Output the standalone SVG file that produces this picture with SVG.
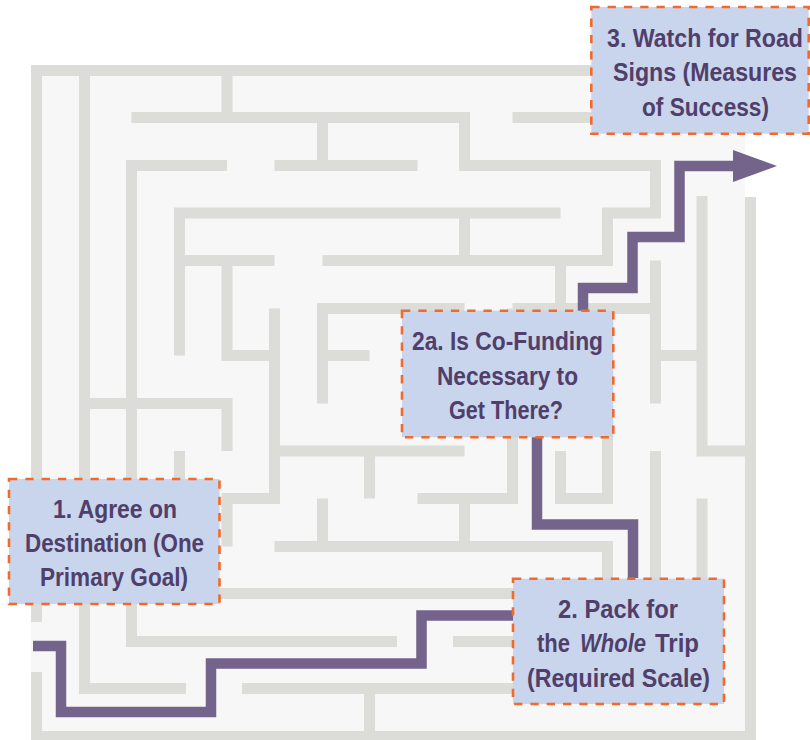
<svg xmlns="http://www.w3.org/2000/svg" width="810" height="740" viewBox="0 0 810 740">
  <style>
    .floor { fill: #f7f7f7; }
    .wall { fill: none; stroke: #dcdcd8; stroke-width: 11; stroke-linecap: butt; stroke-linejoin: miter; }
    .route { fill: none; stroke: #74638a; stroke-width: 10.5; stroke-linecap: butt; stroke-linejoin: miter; }
    .box { fill: #c9d5ec; stroke: #f26a2b; stroke-width: 2.6; stroke-dasharray: 8.3 8; }
    .lbl { font-family: "Liberation Sans", Arial, sans-serif; font-weight: bold; font-size: 26px; fill: #4f3f6a; }
    .it { font-style: italic; }
  </style>
  <defs>
    <marker id="head" markerUnits="userSpaceOnUse" markerWidth="46" markerHeight="34" refX="2" refY="16" orient="auto">
      <polygon points="0,0 44,16 0,32" fill="#74638a"/>
    </marker>
  </defs>

  <rect width="810" height="740" fill="#ffffff"/>

  <!-- maze floor and walls -->
  <g id="maze">
    <path class="floor" d="M31 65H745V197H756V742H31Z"/>
    <path class="wall" d="
      M36.5 480V70.5H745
      M36.5 600V622
      M36.5 672V736.5H750.5V197
      M84.5 70.5V688.5H186
      M227 70.5V117.5
      M131.5 117.5H464.5V165.5H655.5V213H607.5V260.5H322.5
      M512.5 117.5H620
      M322.5 117.5V165.5
      M274.5 165.5H417.5
      M227 165.5H131.5V641.5H397
      M560.5 213H179.5V355.5
      M464.5 213V260.5
      M274.5 260.5H179.5
      M227 260.5V355.5H274.5
      M274.5 308.5V498.5H227V546.5
      M84.5 403.5H227V451
      M179.5 451V490
      M274.5 451H464.5
      M369.5 451V498.5
      M464.5 308.5H322.5V403.5
      M322.5 355.5H369.5
      M512.5 308.5H655.5
      M655.5 260.5V403.5
      M655.5 355.5H702
      M607.5 308.5V498.5H560.5V451
      M512.5 308.5V498.5H417.5
      M560.5 260.5V308.5
      M702 196V451H750.5
      M464.5 498.5V546.5
      M322.5 498.5V546.5
      M274.5 546.5H607.5V600
      M655.5 451V600
      M702 498.5V600
      M200 593.5H520
      M453 641.5H520
      M242 688.5H520
      M369.5 688.5V736.5"/>
  </g>

  <!-- route through the maze -->
  <g id="connectors">
    <path class="route" d="M33 646H61V712H211V663.5H421.5V615.5H513"/>
    <path class="route" d="M537 437V524.5H633V578"/>
    <path class="route" d="M583 311V288H632.5V237H679.5V166H735" marker-end="url(#head)"/>
  </g>

  <g id="box1">
    <rect class="box" x="9" y="479" width="210.5" height="125"/>
    <text class="lbl" x="53" y="517.5" textLength="124" lengthAdjust="spacingAndGlyphs">1. Agree on</text>
    <text class="lbl" x="25" y="552" textLength="179" lengthAdjust="spacingAndGlyphs">Destination (One</text>
    <text class="lbl" x="40" y="586" textLength="148" lengthAdjust="spacingAndGlyphs">Primary Goal)</text>
  </g>

  <g id="box2a">
    <rect class="box" x="402" y="310.7" width="211.3" height="126.6"/>
    <text class="lbl" x="412" y="350" textLength="191" lengthAdjust="spacingAndGlyphs">2a. Is Co-Funding</text>
    <text class="lbl" x="437" y="384.5" textLength="141" lengthAdjust="spacingAndGlyphs">Necessary to</text>
    <text class="lbl" x="449" y="419" textLength="114" lengthAdjust="spacingAndGlyphs">Get There?</text>
  </g>

  <g id="box2">
    <rect class="box" x="513" y="578.7" width="211" height="125.3"/>
    <text class="lbl" x="558" y="617.7" textLength="120" lengthAdjust="spacingAndGlyphs">2. Pack for</text>
    <text class="lbl" x="537" y="652" textLength="33" lengthAdjust="spacingAndGlyphs">the</text>
    <text class="lbl it" x="580" y="652" textLength="66" lengthAdjust="spacingAndGlyphs">Whole</text>
    <text class="lbl" x="655" y="652" textLength="44" lengthAdjust="spacingAndGlyphs">Trip</text>
    <text class="lbl" x="527" y="686.7" textLength="183" lengthAdjust="spacingAndGlyphs">(Required Scale)</text>
  </g>

  <!-- condensed lines: horizontal squeeze keeps them inside the right edge -->
  <g id="box3">
    <rect class="box" x="591.3" y="7" width="217.4" height="126.7"/>
    <text class="lbl" transform="translate(607 46.7) scale(0.88 1)" x="0" y="0" textLength="222.7" lengthAdjust="spacingAndGlyphs">3. Watch for Road</text>
    <text class="lbl" transform="translate(613 81) scale(0.88 1)" x="0" y="0" textLength="209.1" lengthAdjust="spacingAndGlyphs">Signs (Measures</text>
    <text class="lbl" transform="translate(642 115.7) scale(0.88 1)" x="0" y="0" textLength="144.3" lengthAdjust="spacingAndGlyphs">of Success)</text>
  </g>
</svg>
